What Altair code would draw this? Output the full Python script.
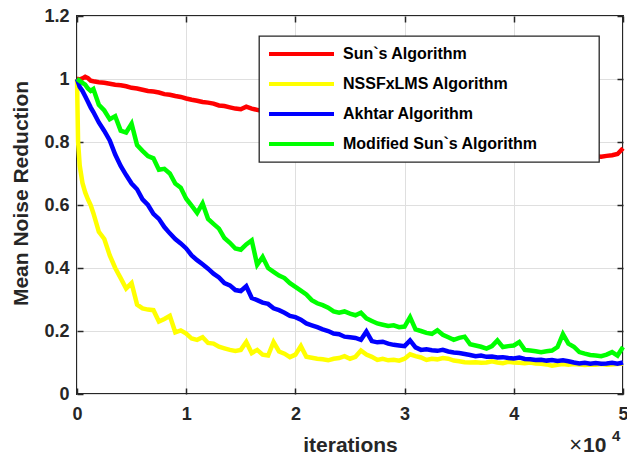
import altair as alt
import pandas as pd

FONT = "Liberation Sans"

names = ["Sun`s Algorithm", "NSSFxLMS Algorithm", "Akhtar Algorithm", "Modified Sun`s Algorithm"]
colors = ["#ff0000", "#ffff00", "#0000ff", "#00ff00"]

iterations = [
    0, 100, 250, 500, 750, 1000, 1250,
    1500, 2000, 2500, 3000, 3500, 4000, 4500, 5000, 5500, 6000,
    6500, 7000, 7500, 8000, 8500, 9000, 9500, 10000, 10500, 11000,
    11500, 12000, 12500, 13000, 13500, 14000, 14500, 15000, 15500, 16000,
    16500, 17000, 17500, 18000, 18500, 19000, 19500, 20000, 20500, 21000,
    21500, 22000, 22500, 23000, 23500, 24000, 24500, 25000, 25500, 26000,
    26500, 27000, 27500, 28000, 28500, 29000, 29500, 30000, 30500, 31000,
    31500, 32000, 32500, 33000, 33500, 34000, 34500, 35000, 35500, 36000,
    36500, 37000, 37500, 38000, 38500, 39000, 39500, 40000, 40500, 41000,
    41500, 42000, 42500, 43000, 43500, 44000, 44500, 45000, 45500, 46000,
    46500, 47000, 47500, 48000, 48500, 49000, 49500, 50000,
]

sun = [
    1.000, 1.000, 0.998, 1.002, 1.007, 1.003, 0.995,
    0.993, 0.990, 0.988, 0.985, 0.982, 0.980, 0.977, 0.972, 0.970, 0.966,
    0.962, 0.960, 0.957, 0.952, 0.950, 0.946, 0.943, 0.938, 0.934, 0.931,
    0.927, 0.925, 0.922, 0.916, 0.914, 0.910, 0.906, 0.904, 0.912, 0.906,
    0.902, 0.898, 0.895, 0.892, 0.890, 0.886, 0.882, 0.880, 0.876, 0.873,
    0.870, 0.868, 0.864, 0.862, 0.858, 0.856, 0.853, 0.850, 0.847, 0.845,
    0.842, 0.838, 0.836, 0.833, 0.830, 0.828, 0.824, 0.822, 0.819, 0.816,
    0.814, 0.811, 0.808, 0.806, 0.803, 0.800, 0.797, 0.795, 0.792, 0.789,
    0.786, 0.784, 0.781, 0.778, 0.776, 0.773, 0.770, 0.768, 0.765, 0.763,
    0.762, 0.760, 0.759, 0.758, 0.757, 0.757, 0.756, 0.756, 0.755, 0.755,
    0.754, 0.754, 0.755, 0.753, 0.756, 0.758, 0.762, 0.780,
]

nssfxlms = [
    1.000, 0.800, 0.725, 0.670, 0.640, 0.618, 0.600,
    0.574, 0.515, 0.492, 0.440, 0.400, 0.368, 0.335, 0.352, 0.284, 0.272,
    0.268, 0.266, 0.230, 0.238, 0.248, 0.196, 0.202, 0.192, 0.176, 0.172,
    0.180, 0.162, 0.160, 0.150, 0.145, 0.140, 0.137, 0.140, 0.165, 0.130,
    0.140, 0.125, 0.122, 0.165, 0.135, 0.128, 0.117, 0.125, 0.152, 0.118,
    0.115, 0.112, 0.110, 0.107, 0.112, 0.114, 0.120, 0.112, 0.118, 0.138,
    0.125, 0.118, 0.108, 0.112, 0.107, 0.109, 0.106, 0.112, 0.126, 0.120,
    0.116, 0.108, 0.112, 0.110, 0.114, 0.112, 0.106, 0.104, 0.101, 0.100,
    0.101, 0.099, 0.100, 0.104, 0.100, 0.098, 0.102, 0.100, 0.099, 0.098,
    0.100, 0.097, 0.096, 0.094, 0.090, 0.093, 0.095, 0.093, 0.095, 0.094,
    0.092, 0.094, 0.093, 0.095, 0.093, 0.094, 0.095, 0.097,
]

akhtar = [
    1.000, 0.990, 0.975, 0.962, 0.945, 0.928, 0.910,
    0.895, 0.862, 0.835, 0.805, 0.760, 0.724, 0.695, 0.668, 0.650, 0.618,
    0.600, 0.572, 0.556, 0.530, 0.510, 0.492, 0.478, 0.462, 0.440, 0.425,
    0.412, 0.398, 0.382, 0.370, 0.352, 0.345, 0.330, 0.327, 0.342, 0.305,
    0.298, 0.290, 0.286, 0.272, 0.266, 0.258, 0.248, 0.244, 0.236, 0.224,
    0.218, 0.212, 0.205, 0.200, 0.192, 0.190, 0.182, 0.180, 0.178, 0.172,
    0.198, 0.168, 0.164, 0.166, 0.160, 0.156, 0.154, 0.152, 0.170, 0.148,
    0.140, 0.142, 0.139, 0.137, 0.140, 0.135, 0.132, 0.130, 0.127, 0.124,
    0.120, 0.122, 0.118, 0.119, 0.116, 0.117, 0.114, 0.113, 0.116, 0.111,
    0.110, 0.108, 0.109, 0.106, 0.108, 0.105, 0.107, 0.104, 0.100, 0.097,
    0.099, 0.096, 0.098, 0.096, 0.097, 0.099, 0.096, 0.100,
]

modified_sun = [
    1.000, 0.998, 0.994, 0.988, 0.982, 0.970, 0.962,
    0.968, 0.918, 0.900, 0.872, 0.882, 0.836, 0.830, 0.858, 0.790, 0.772,
    0.755, 0.748, 0.712, 0.715, 0.700, 0.668, 0.655, 0.620, 0.598, 0.575,
    0.605, 0.556, 0.540, 0.525, 0.495, 0.480, 0.462, 0.458, 0.475, 0.488,
    0.410, 0.435, 0.400, 0.388, 0.376, 0.368, 0.352, 0.340, 0.328, 0.316,
    0.298, 0.288, 0.282, 0.274, 0.262, 0.258, 0.262, 0.255, 0.250, 0.258,
    0.240, 0.232, 0.224, 0.220, 0.216, 0.218, 0.212, 0.214, 0.244, 0.205,
    0.200, 0.194, 0.191, 0.202, 0.188, 0.180, 0.172, 0.178, 0.182, 0.158,
    0.154, 0.150, 0.144, 0.152, 0.170, 0.149, 0.152, 0.154, 0.165, 0.140,
    0.138, 0.136, 0.133, 0.136, 0.138, 0.149, 0.190, 0.160, 0.150, 0.133,
    0.128, 0.124, 0.122, 0.120, 0.125, 0.133, 0.122, 0.149,
]

x_ticks = [0, 10000, 20000, 30000, 40000, 50000]
y_ticks = [0, 0.2, 0.4, 0.6, 0.8, 1.0, 1.2]

series_values = [sun, nssfxlms, akhtar, modified_sun]
rows = []
for name, vals in zip(names, series_values):
    for it, v in zip(iterations, vals):
        rows.append({"iter": it, "value": v, "series": name})
df = pd.DataFrame(rows)

TXT = "#262626"
W, H = 546, 378

x_scale = alt.Scale(domain=[0, 50000], nice=False, zero=False)
y_scale = alt.Scale(domain=[0, 1.2], nice=False)

x_main = alt.Axis(
    orient="bottom", values=x_ticks, labelExpr="format(datum.value / 10000, '~g')",
    title="iterations",
    grid=True, gridColor="#dfdfdf", gridWidth=1,
    offset=-6, ticks=True, tickSize=6, tickWidth=1.5, tickColor=TXT, domain=False,
    labelFont=FONT, labelFontSize=18, labelFontWeight="bold", labelColor=TXT,
    labelPadding=11, labelFlush=False, labelOverlap=False,
    titleFont=FONT, titleFontSize=21, titleFontWeight="bold", titleColor=TXT, titlePadding=11,
)
y_main = alt.Axis(
    orient="left", values=y_ticks, labelExpr="format(datum.value, '~g')",
    title="Mean Noise Reduction",
    grid=True, gridColor="#dfdfdf", gridWidth=1,
    offset=-6, ticks=True, tickSize=6, tickWidth=1.5, tickColor=TXT, domain=False,
    labelFont=FONT, labelFontSize=18, labelFontWeight="bold", labelColor=TXT,
    labelPadding=8, labelFlush=False, labelOverlap=False,
    titleFont=FONT, titleFontSize=21, titleFontWeight="bold", titleColor=TXT, titlePadding=12,
    titleY=177,
)


def tick_axis(orient, values):
    return alt.Axis(orient=orient, values=values, offset=-6, tickSize=6, tickWidth=1.5,
                    tickColor=TXT, labels=False, domain=False, grid=False, title=None)


legend = alt.Legend(
    title=None, orient="none", legendX=182, legendY=20,
    symbolType="stroke", symbolSize=4225, symbolStrokeWidth=4, clipHeight=20,
    rowPadding=10, labelFont=FONT, labelFontSize=16, labelFontWeight="bold",
    labelColor="#000000", labelOffset=7, labelLimit=500, padding=8,
    fillColor="white", strokeColor=TXT,
    labelExpr="datum.label + '" + "\u00a0" * 12 + "\u200b'",
)

color = alt.Color("series:N", scale=alt.Scale(domain=names, range=colors), legend=legend)

line_layers = []
for i, name in enumerate(names):
    line_layers.append(
        alt.Chart(df).transform_filter(alt.datum.series == name)
        .mark_line(strokeWidth=4.5)
        .encode(
            x=alt.X("iter:Q", scale=x_scale, axis=x_main),
            y=alt.Y("value:Q", scale=y_scale, axis=y_main),
            color=color,
        )
    )
lines = alt.layer(*line_layers)

ticks_tr = alt.Chart(df).mark_point(opacity=0).encode(
    x=alt.X("iter:Q", scale=x_scale, axis=tick_axis("top", x_ticks)),
    y=alt.Y("value:Q", scale=y_scale, axis=tick_axis("right", y_ticks)),
)

one = pd.DataFrame({"a": [0]})
times = alt.Chart(one).mark_text(text="×", font=FONT, fontSize=22, align="right",
                                 baseline="alphabetic", color=TXT).encode(
    x=alt.value(505), y=alt.value(436))
ten = alt.Chart(one).mark_text(text="10", font=FONT, fontSize=21, fontWeight="bold",
                               align="left", baseline="alphabetic", color=TXT).encode(
    x=alt.value(506), y=alt.value(436))
four = alt.Chart(one).mark_text(text="4", font=FONT, fontSize=15, fontWeight="bold",
                                align="left", baseline="alphabetic", color=TXT).encode(
    x=alt.value(535), y=alt.value(425))

chart = (
    alt.layer(lines, ticks_tr, times, ten, four)
    .resolve_axis(x="independent", y="independent")
    .properties(
        width=W, height=H,
        autosize=alt.AutoSizeParams(type="none"),
        padding={"left": 77, "top": 16, "right": 627 - 77 - W, "bottom": 461 - 16 - H},
        background="white",
    )
    .configure_view(stroke=TXT, strokeWidth=2)
    .configure_legend(strokeWidth=1.3, cornerRadius=0)
)

chart.save("out.html", embed_options={"renderer": "svg", "actions": False})
